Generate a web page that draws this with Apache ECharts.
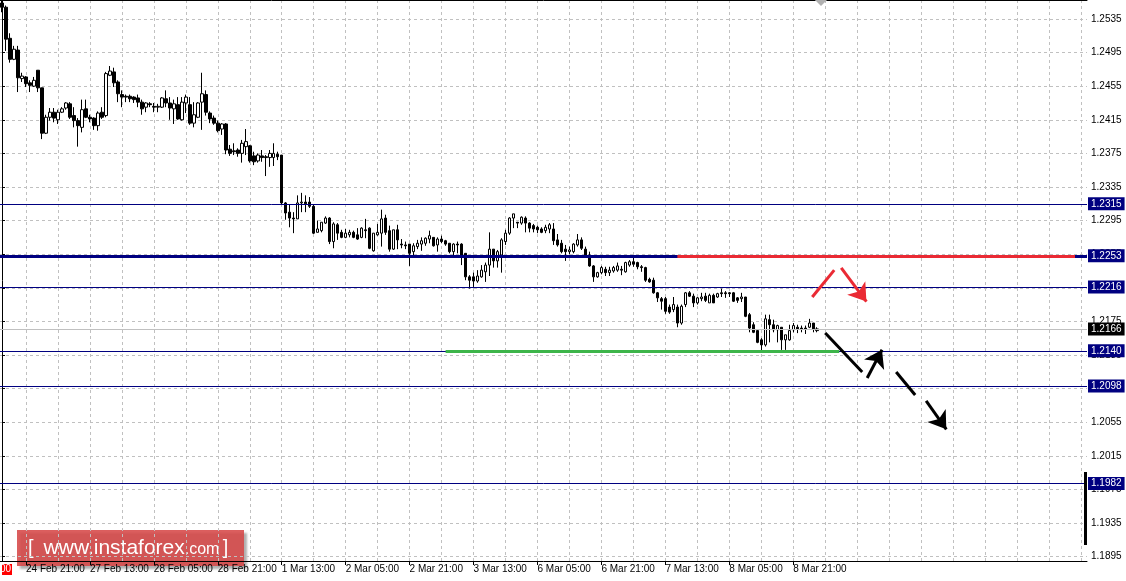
<!DOCTYPE html>
<html><head><meta charset="utf-8">
<script src="https://cdn.jsdelivr.net/npm/echarts@6/dist/echarts.min.js"></script>
<style>html,body{margin:0;padding:0;background:#fff}#c{width:1126px;height:581px}</style>
</head><body><div id="c"></div>
<script>
// ---- H1 candles, 24 Feb 15:00 .. 9 Mar 03:00 (weekend skipped) ----
const opens = [
1.2554,1.2549,1.2512,1.2487,1.2498,1.2464,1.2466,1.2459,1.2455,1.2474,
1.2453,1.2399,1.2418,1.2424,1.2415,1.2424,1.2429,1.2434,1.2420,1.2414,
1.2406,1.2428,1.2418,1.2417,1.2408,1.2424,1.2420,1.2468,1.2472,1.2460,
1.2445,1.2443,1.2443,1.2442,1.2441,1.2436,1.2430,1.2434,1.2431,1.2430,
1.2430,1.2440,1.2435,1.2428,1.2433,1.2415,1.2435,1.2433,1.2411,1.2418,
1.2436,1.2445,1.2423,1.2417,1.2411,1.2404,1.2410,1.2380,1.2378,1.2379,
1.2375,1.2383,1.2384,1.2372,1.2366,1.2372,1.2371,1.2370,1.2370,1.2374,
1.2373,1.2316,1.2305,1.2298,1.2297,1.2316,1.2317,1.2317,1.2312,1.2281,
1.2283,1.2292,1.2298,1.2270,1.2290,1.2281,1.2275,1.2278,1.2281,1.2278,
1.2275,1.2284,1.2286,1.2259,1.2278,1.2280,1.2298,1.2283,1.2261,1.2284,
1.2267,1.2266,1.2267,1.2258,1.2264,1.2267,1.2268,1.2273,1.2275,1.2266,
1.2273,1.2271,1.2268,1.2258,1.2267,1.2267,1.2256,1.2228,1.2228,1.2223,
1.2228,1.2234,1.2242,1.2261,1.2247,1.2254,1.2270,1.2280,1.2298,1.2293,
1.2292,1.2298,1.2292,1.2289,1.2287,1.2285,1.2283,1.2285,1.2285,1.2272,
1.2268,1.2261,1.2258,1.2258,1.2266,1.2272,1.2261,1.2254,1.2241,1.2228,
1.2233,1.2237,1.2233,1.2235,1.2236,1.2237,1.2234,1.2242,1.2246,1.2245,
1.2240,1.2239,1.2225,1.2224,1.2209,1.2202,1.2202,1.2192,1.2189,1.2192,
1.2173,1.2195,1.2209,1.2205,1.2197,1.2202,1.2205,1.2197,1.2206,1.2204,
1.2209,1.2209,1.2209,1.2209,1.2203,1.2202,1.2204,1.2183,1.2171,1.2164,
1.2153,1.2147,1.2177,1.2171,1.2165,1.2168,1.2153,1.2153,1.2165,1.2168,
1.2167,1.2167,1.2168,1.2173,1.2164];
const closes = [
1.2549,1.2511,1.2487,1.2499,1.2465,1.2467,1.2458,1.2456,1.2462,1.2453,
1.2399,1.2418,1.2424,1.2417,1.2424,1.2428,1.2435,1.2418,1.2414,1.2408,
1.2427,1.2418,1.2416,1.2408,1.2423,1.2418,1.2470,1.2473,1.2459,1.2446,
1.2442,1.2442,1.2440,1.2439,1.2436,1.2428,1.2435,1.2433,1.2430,1.2431,
1.2441,1.2435,1.2429,1.2434,1.2416,1.2436,1.2442,1.2411,1.2421,1.2435,
1.2446,1.2424,1.2416,1.2411,1.2402,1.2410,1.2379,1.2375,1.2377,1.2375,
1.2387,1.2389,1.2366,1.2365,1.2373,1.2370,1.2370,1.2375,1.2375,1.2371,
1.2316,1.2304,1.2298,1.2297,1.2316,1.2317,1.2315,1.2312,1.2280,1.2285,
1.2293,1.2298,1.2270,1.2291,1.2280,1.2275,1.2280,1.2281,1.2275,1.2273,
1.2286,1.2283,1.2262,1.2280,1.2281,1.2297,1.2281,1.2261,1.2284,1.2272,
1.2266,1.2265,1.2256,1.2265,1.2268,1.2271,1.2274,1.2277,1.2265,1.2273,
1.2270,1.2267,1.2258,1.2267,1.2266,1.2254,1.2228,1.2224,1.2223,1.2229,
1.2236,1.2242,1.2261,1.2247,1.2258,1.2272,1.2280,1.2298,1.2303,1.2292,
1.2299,1.2292,1.2286,1.2285,1.2284,1.2281,1.2287,1.2290,1.2271,1.2266,
1.2258,1.2258,1.2260,1.2267,1.2272,1.2262,1.2254,1.2241,1.2228,1.2233,
1.2239,1.2233,1.2236,1.2239,1.2241,1.2236,1.2245,1.2246,1.2243,1.2240,
1.2239,1.2224,1.2222,1.2209,1.2203,1.2199,1.2187,1.2186,1.2195,1.2173,
1.2193,1.2209,1.2205,1.2197,1.2203,1.2204,1.2200,1.2206,1.2197,1.2208,
1.2208,1.2208,1.2208,1.2199,1.2200,1.2204,1.2181,1.2167,1.2162,1.2150,
1.2147,1.2178,1.2171,1.2165,1.2170,1.2153,1.2159,1.2164,1.2170,1.2166,
1.2166,1.2166,1.2173,1.2166,1.2166];
const lows = [
1.2543,1.2497,1.2483,1.2486,1.2448,1.2460,1.2454,1.2448,1.2454,1.2448,
1.2392,1.2398,1.2414,1.2412,1.2410,1.2423,1.2427,1.2416,1.2406,1.2383,
1.2400,1.2417,1.2412,1.2403,1.2402,1.2416,1.2418,1.2467,1.2454,1.2436,
1.2430,1.2436,1.2436,1.2435,1.2430,1.2421,1.2424,1.2430,1.2424,1.2424,
1.2429,1.2430,1.2415,1.2410,1.2415,1.2414,1.2423,1.2409,1.2406,1.2417,
1.2403,1.2420,1.2411,1.2409,1.2400,1.2397,1.2374,1.2372,1.2373,1.2371,
1.2364,1.2373,1.2364,1.2361,1.2364,1.2365,1.2348,1.2359,1.2360,1.2367,
1.2314,1.2296,1.2287,1.2280,1.2297,1.2305,1.2305,1.2310,1.2279,1.2281,
1.2281,1.2291,1.2267,1.2262,1.2272,1.2274,1.2274,1.2275,1.2274,1.2272,
1.2274,1.2274,1.2261,1.2258,1.2277,1.2264,1.2278,1.2258,1.2260,1.2261,
1.2262,1.2261,1.2241,1.2254,1.2261,1.2259,1.2265,1.2268,1.2264,1.2258,
1.2268,1.2265,1.2256,1.2254,1.2256,1.2242,1.2224,1.2214,1.2216,1.2221,
1.2227,1.2222,1.2229,1.2239,1.2239,1.2233,1.2266,1.2278,1.2286,1.2286,
1.2290,1.2281,1.2281,1.2281,1.2280,1.2280,1.2280,1.2280,1.2266,1.2264,
1.2256,1.2247,1.2255,1.2256,1.2264,1.2260,1.2253,1.2240,1.2222,1.2227,
1.2231,1.2229,1.2229,1.2233,1.2234,1.2230,1.2233,1.2240,1.2240,1.2237,
1.2234,1.2222,1.2221,1.2208,1.2198,1.2189,1.2184,1.2184,1.2186,1.2168,
1.2171,1.2192,1.2204,1.2192,1.2195,1.2199,1.2198,1.2197,1.2197,1.2203,
1.2204,1.2203,1.2204,1.2198,1.2197,1.2198,1.2180,1.2162,1.2161,1.2149,
1.2139,1.2145,1.2150,1.2162,1.2150,1.2141,1.2141,1.2152,1.2162,1.2161,
1.2162,1.2160,1.2167,1.2162,1.2162];
const highs = [
1.2557,1.2551,1.2518,1.2503,1.2503,1.2471,1.2467,1.2462,1.2466,1.2474,
1.2453,1.2421,1.2429,1.2429,1.2427,1.2430,1.2436,1.2436,1.2430,1.2417,
1.2439,1.2439,1.2421,1.2418,1.2425,1.2430,1.2472,1.2479,1.2477,1.2462,
1.2450,1.2445,1.2445,1.2443,1.2445,1.2439,1.2436,1.2436,1.2435,1.2434,
1.2442,1.2450,1.2442,1.2439,1.2442,1.2442,1.2445,1.2442,1.2436,1.2436,
1.2471,1.2450,1.2425,1.2420,1.2414,1.2411,1.2411,1.2385,1.2387,1.2381,
1.2391,1.2404,1.2385,1.2377,1.2375,1.2379,1.2373,1.2379,1.2387,1.2377,
1.2373,1.2317,1.2314,1.2305,1.2325,1.2328,1.2325,1.2323,1.2314,1.2295,
1.2293,1.2300,1.2299,1.2293,1.2292,1.2284,1.2285,1.2284,1.2283,1.2286,
1.2287,1.2297,1.2287,1.2280,1.2291,1.2308,1.2302,1.2289,1.2284,1.2290,
1.2273,1.2270,1.2267,1.2268,1.2272,1.2275,1.2275,1.2283,1.2275,1.2275,
1.2277,1.2272,1.2268,1.2268,1.2270,1.2268,1.2256,1.2230,1.2233,1.2236,
1.2242,1.2245,1.2281,1.2261,1.2260,1.2274,1.2284,1.2299,1.2303,1.2293,
1.2300,1.2300,1.2293,1.2291,1.2289,1.2287,1.2290,1.2292,1.2292,1.2279,
1.2272,1.2266,1.2264,1.2268,1.2279,1.2275,1.2264,1.2258,1.2242,1.2234,
1.2241,1.2240,1.2240,1.2241,1.2245,1.2241,1.2246,1.2248,1.2252,1.2246,
1.2242,1.2240,1.2227,1.2227,1.2210,1.2204,1.2204,1.2195,1.2204,1.2195,
1.2195,1.2210,1.2211,1.2208,1.2204,1.2209,1.2209,1.2208,1.2208,1.2209,
1.2214,1.2211,1.2210,1.2210,1.2204,1.2209,1.2204,1.2185,1.2174,1.2165,
1.2155,1.2183,1.2183,1.2177,1.2171,1.2168,1.2159,1.2171,1.2173,1.2171,
1.2170,1.2170,1.2178,1.2173,1.2168];

// ---- axis texts ----
const xTickLabels = ['24 Feb 21:00','27 Feb 13:00','28 Feb 05:00','28 Feb 21:00','1 Mar 13:00',
  '2 Mar 05:00','2 Mar 21:00','3 Mar 13:00','6 Mar 05:00','6 Mar 21:00','7 Mar 13:00',
  '8 Mar 05:00','8 Mar 21:00'];
const yTicks = [1.1895,1.1935,1.1975,1.2015,1.2055,1.2095,1.2135,1.2175,1.2215,1.2255,
  1.2295,1.2335,1.2375,1.2415,1.2455,1.2495,1.2535];

// ---- levels and drawings (in data space: bar index, price) ----
const levels = [1.2315, 1.2253, 1.2216, 1.2140, 1.2098, 1.1982];
const currentPrice = 1.2166;
const resistanceSeg = [[169, 1.2253], [268.5, 1.2253]];
const supportSeg = [[111, 1.2140], [209.5, 1.2140]];
const redUp = [[202.75, 1.2204], [208.25, 1.2236]];
const redDownArrow = [[210, 1.22386], [216.3, 1.21985]];
const blackDown1 = [[206, 1.21612], [215.25, 1.21147]];
const blackUpArrow = [[216.5, 1.21076], [220.2, 1.21412]];
const blackDown2 = [[223.75, 1.21147], [228.5, 1.20874]];
const blackDownArrow = [[231.25, 1.20802], [236.3, 1.20465]];
const edgeBar = [[271.0, 1.19957], [271.0, 1.19088]];

// ---- categories: hourly bars, Mon-Fri ----
const MONTHS = ['Jan','Feb','Mar','Apr','May','Jun','Jul','Aug','Sep','Oct','Nov','Dec'];
const N_CAT = 272;
const categories = [];
(function(){
  let t = Date.UTC(2017, 1, 24, 15);
  while (categories.length < N_CAT) {
    const d = new Date(t);
    const wd = d.getUTCDay();
    if (wd !== 0 && wd !== 6) {
      categories.push(d.getUTCDate() + ' ' + MONTHS[d.getUTCMonth()] + ' ' +
        String(d.getUTCHours()).padStart(2,'0') + ':00');
    }
    t += 3600000;
  }
})();
const firstLabelIdx = categories.indexOf(xTickLabels[0]);

const candleData = opens.map((o, i) => [o, closes[i], lows[i], highs[i]]);

const NAVY = '#000080';
const levelStyle = (v) => ({
  yAxis: v,
  lineStyle: { color: NAVY, width: v === 1.2253 ? 3 : 1, type: 'solid' },
  label: { backgroundColor: NAVY }
});

const chart = echarts.init(document.getElementById('c'), null, { renderer: 'canvas' });
const FONT = 'Liberation Sans';
chart.setOption({
  animation: false,
  backgroundColor: '#fff',
  textStyle: { fontFamily: FONT },
  grid: { left: 0, right: 39, top: 0, bottom: 20, containLabel: false, outerBoundsMode: 'none' },
  xAxis: [{
    type: 'category', data: categories, boundaryGap: true,
    axisLine: { show: true, lineStyle: { color: '#000', width: 1 } },
    axisTick: { show: true, alignWithLabel: true, length: 4, lineStyle: { color: '#000' },
      interval: (i, v) => xTickLabels.includes(v) },
    axisLabel: { interval: (i, v) => xTickLabels.includes(v), align: 'left', margin: 3,
      color: '#000', fontSize: 10, fontFamily: FONT, hideOverlap: false },
    splitLine: { show: true, alignWithLabel: true, interval: (i) => i >= firstLabelIdx && (i - firstLabelIdx) % 8 === 0,
      lineStyle: { color: '#c0c0c0', type: [3, 3], width: 1 } }
  }, {
    type: 'value', position: 'top', min: -0.5, max: N_CAT - 0.5,
    axisLine: { show: true, onZero: false, lineStyle: { color: '#000', width: 1 } },
    axisTick: { show: false }, axisLabel: { show: false }, splitLine: { show: false }
  }],
  yAxis: {
    type: 'value', position: 'right', min: 1.18897, max: 1.25576,
    axisLine: { show: true, lineStyle: { color: '#000', width: 1 } },
    axisTick: { show: true, customValues: yTicks, length: 3, lineStyle: { color: '#000' } },
    axisLabel: { customValues: yTicks, formatter: (v) => Number(v).toFixed(4), color: '#000',
      fontSize: 10, fontFamily: FONT, margin: 4 },
    splitLine: { show: true, lineStyle: { color: '#c0c0c0', type: [3, 3], width: 1 } }
  },
  series: [{
    type: 'candlestick', data: candleData, barWidth: 3,
    itemStyle: { color: '#fff', color0: '#000', borderColor: '#000', borderColor0: '#000', borderWidth: 1 },
    z: 3,
    markLine: {
      silent: true, symbol: ['none', 'none'], animation: false, precision: 4,
      label: { show: true, position: 'end', distance: 1, color: '#fff', fontSize: 10, fontFamily: FONT,
        padding: [2, 3, 1, 3], formatter: (p) => Number(p.value).toFixed(4) },
      data: [
        { yAxis: currentPrice, lineStyle: { color: '#c0c0c0', width: 1, type: 'solid' }, label: { backgroundColor: '#000' } }
      ].concat(levels.map(levelStyle))
    }
  }, {
    type: 'lines', coordinateSystem: 'cartesian2d', xAxisIndex: 1, yAxisIndex: 0,
    polyline: false, silent: true, symbol: ['none', 'none'], z: 6,
    lineStyle: { opacity: 1, width: 3, color: '#000', cap: 'butt' },
    data: [
      { coords: resistanceSeg, lineStyle: { color: '#ea2a34', width: 3, opacity: 1 } },
      { coords: supportSeg, lineStyle: { color: '#3db54a', width: 3, opacity: 1 } },
      { coords: redUp, lineStyle: { color: '#ea2a34', width: 3, opacity: 1 } },
      { coords: blackDown1, lineStyle: { color: '#000', width: 3, opacity: 1 } },
      { coords: blackDown2, lineStyle: { color: '#000', width: 3, opacity: 1 } },
      { coords: edgeBar, lineStyle: { color: '#000', width: 3, opacity: 1 } }
    ]
  }, {
    type: 'lines', coordinateSystem: 'cartesian2d', xAxisIndex: 1, yAxisIndex: 0,
    polyline: false, silent: true, symbol: ['none', 'arrow'], symbolSize: 17, z: 6,
    lineStyle: { opacity: 1, width: 3, color: '#000' },
    data: [
      { coords: redDownArrow, lineStyle: { color: '#ea2a34', width: 3, opacity: 1 }, itemStyle: { color: '#ea2a34' } },
      { coords: blackUpArrow, lineStyle: { color: '#000', width: 3, opacity: 1 } },
      { coords: blackDownArrow, lineStyle: { color: '#000', width: 3, opacity: 1 } }
    ]
  }],
  graphic: [{
    type: 'group', left: 17, top: 530, z: 100,
    children: [{
      type: 'rect', shape: { x: 0, y: 0, width: 227, height: 36 },
      style: { fill: 'rgba(214,72,72,0.88)', shadowColor: 'rgba(0,0,0,0.35)', shadowOffsetX: 3, shadowOffsetY: 3, shadowBlur: 2 }
    }, {
      type: 'text', x: 11, y: 18,
      style: {
        text: '{b|[}   {w|www.instaforex}{c|.com} {b|]}', verticalAlign: 'middle',
        rich: {
          b: { fill: '#fff', fontSize: 20, fontFamily: FONT },
          w: { fill: '#fff', fontSize: 21, fontFamily: FONT },
          c: { fill: '#fff', fontSize: 16, fontFamily: FONT, padding: [4, 0, 0, 0] }
        }
      }
    }]
  }, {
    type: 'group', left: 0, top: 564, z: 100,
    children: [{ type: 'rect', shape: { x: 0, y: 0, width: 10, height: 11 }, style: { fill: '#ff0000' } },
      { type: 'text', x: -2, y: 0, style: { text: '00', fill: '#fff', fontSize: 10, fontFamily: FONT } }]
  }, {
    type: 'polygon', z: 100, shape: { points: [[815, 0], [827, 0], [821, 6]] }, style: { fill: '#b0b0b0' }
  }]
});
</script>
</body></html>
